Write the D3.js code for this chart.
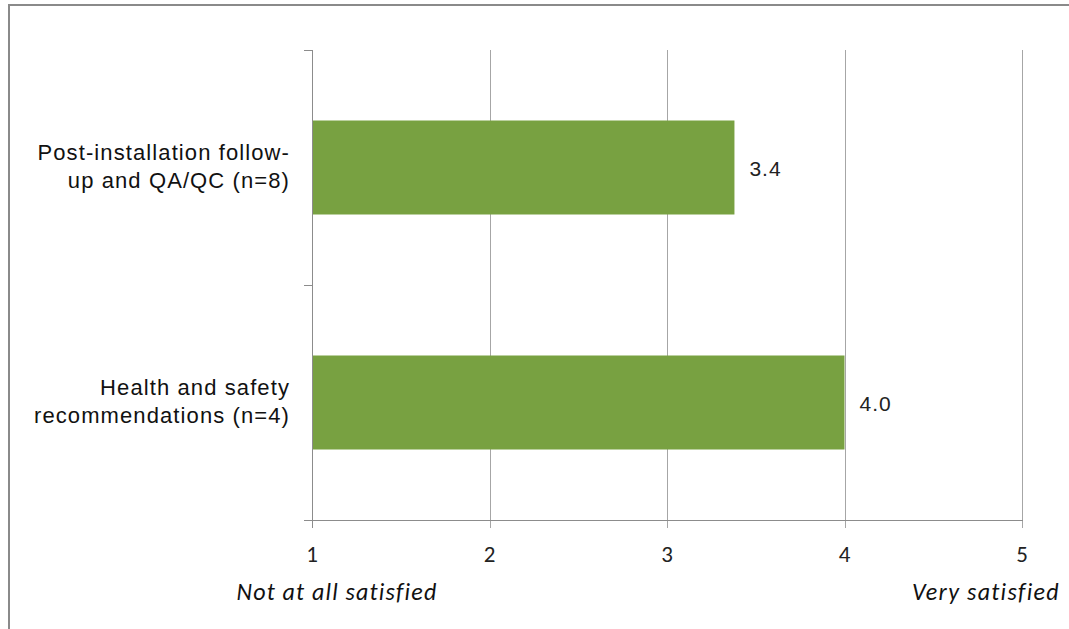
<!DOCTYPE html>
<html><head><meta charset="utf-8">
<script src="https://cdn.jsdelivr.net/npm/d3@7"></script>
<style>body{margin:0;background:#fff}svg{display:block}</style>
</head><body>
<svg id="c" width="1069" height="629"></svg>
<script>
const categories = [["Post-installation follow-", "up and QA/QC (n=8)"], ["Health and safety", "recommendations (n=4)"]];
const values = [3.38, 4.0];
const valueLabels = ["3.4", "4.0"];
const xTicks = [1, 2, 3, 4, 5];
const anchorLabels = ["Not at all satisfied", "Very satisfied"];

const svg = d3.select("#c");
// frame
svg.append("rect").attr("x", 9).attr("y", 5).attr("width", 1070).attr("height", 640)
  .attr("fill", "none").attr("stroke", "#8a8a8a").attr("stroke-width", 2);

const L = 312, R = 1022, T = 50, B = 520;
const x = d3.scaleLinear().domain([1, 5]).range([L, R]);
const y = d3.scaleBand().domain(d3.range(categories.length)).range([T, B]).paddingInner(0.6).paddingOuter(0.3);
const yb = d3.scaleBand().domain(d3.range(categories.length)).range([T, B]);

// gridlines
svg.append("g").selectAll("line").data(xTicks.slice(1)).join("line")
  .attr("x1", d => Math.round(x(d)) + 0.5).attr("x2", d => Math.round(x(d)) + 0.5)
  .attr("y1", T).attr("y2", B + 8).attr("stroke", "#a6a6a6").attr("stroke-width", 1);

// bars
svg.append("g").selectAll("rect").data(values).join("rect")
  .attr("x", x(1)).attr("width", d => x(d) - x(1))
  .attr("y", (d, i) => y(i)).attr("height", y.bandwidth())
  .attr("fill", "#78a141");

// y axis
svg.append("line").attr("x1", L + 0.5).attr("x2", L + 0.5).attr("y1", T).attr("y2", B + 8)
  .attr("stroke", "#8c8c8c");
const yTickPos = [T, T + yb.bandwidth(), B];
svg.append("g").selectAll("line").data(yTickPos).join("line")
  .attr("x1", L - 8).attr("x2", L).attr("y1", d => d + 0.5).attr("y2", d => d + 0.5)
  .attr("stroke", "#8c8c8c");
// x axis
svg.append("line").attr("x1", L - 8).attr("x2", R + 1).attr("y1", B + 0.5).attr("y2", B + 0.5)
  .attr("stroke", "#8c8c8c");

// x tick labels
svg.append("g").selectAll("text").data(xTicks).join("text")
  .attr("x", d => x(d)).attr("y", 562).attr("text-anchor", "middle")
  .attr("font-family", "Carlito, Lato, 'Open Sans', sans-serif").attr("font-size", 23)
  .attr("fill", "#222").text(d => d);

// anchor labels
svg.append("text").attr("x", 337).attr("y", 600).attr("text-anchor", "middle")
  .attr("font-family", "Carlito, Lato, sans-serif").attr("font-style", "italic").attr("font-size", 24)
  .attr("letter-spacing", 1.2).attr("fill", "#111").text(anchorLabels[0]);
svg.append("text").attr("x", 986).attr("y", 600).attr("text-anchor", "middle")
  .attr("font-family", "Carlito, Lato, sans-serif").attr("font-style", "italic").attr("font-size", 24)
  .attr("letter-spacing", 1.3).attr("fill", "#111").text(anchorLabels[1]);

// category labels
const cat = svg.append("g").selectAll("text").data(categories).join("text")
  .attr("text-anchor", "end")
  .attr("font-family", "'Liberation Sans', Arial, sans-serif").attr("font-size", 22)
  .attr("letter-spacing", 1.1).attr("fill", "#111");
cat.each(function(d, i) {
  const cy = y(i) + y.bandwidth() / 2;
  d3.select(this).selectAll("tspan").data(d).join("tspan")
    .attr("x", 290).attr("y", (t, j) => cy - 7.5 + j * 28).text(t => t);
});

// value labels
svg.append("g").selectAll("text").data(values).join("text")
  .attr("x", d => x(d) + 15).attr("y", (d, i) => y(i) + y.bandwidth() / 2 + 8.5)
  .attr("font-family", "'Liberation Sans', Arial, sans-serif").attr("font-size", 21)
  .attr("letter-spacing", 1).attr("fill", "#222")
  .text((d, i) => valueLabels[i]);
</script>
</body></html>
